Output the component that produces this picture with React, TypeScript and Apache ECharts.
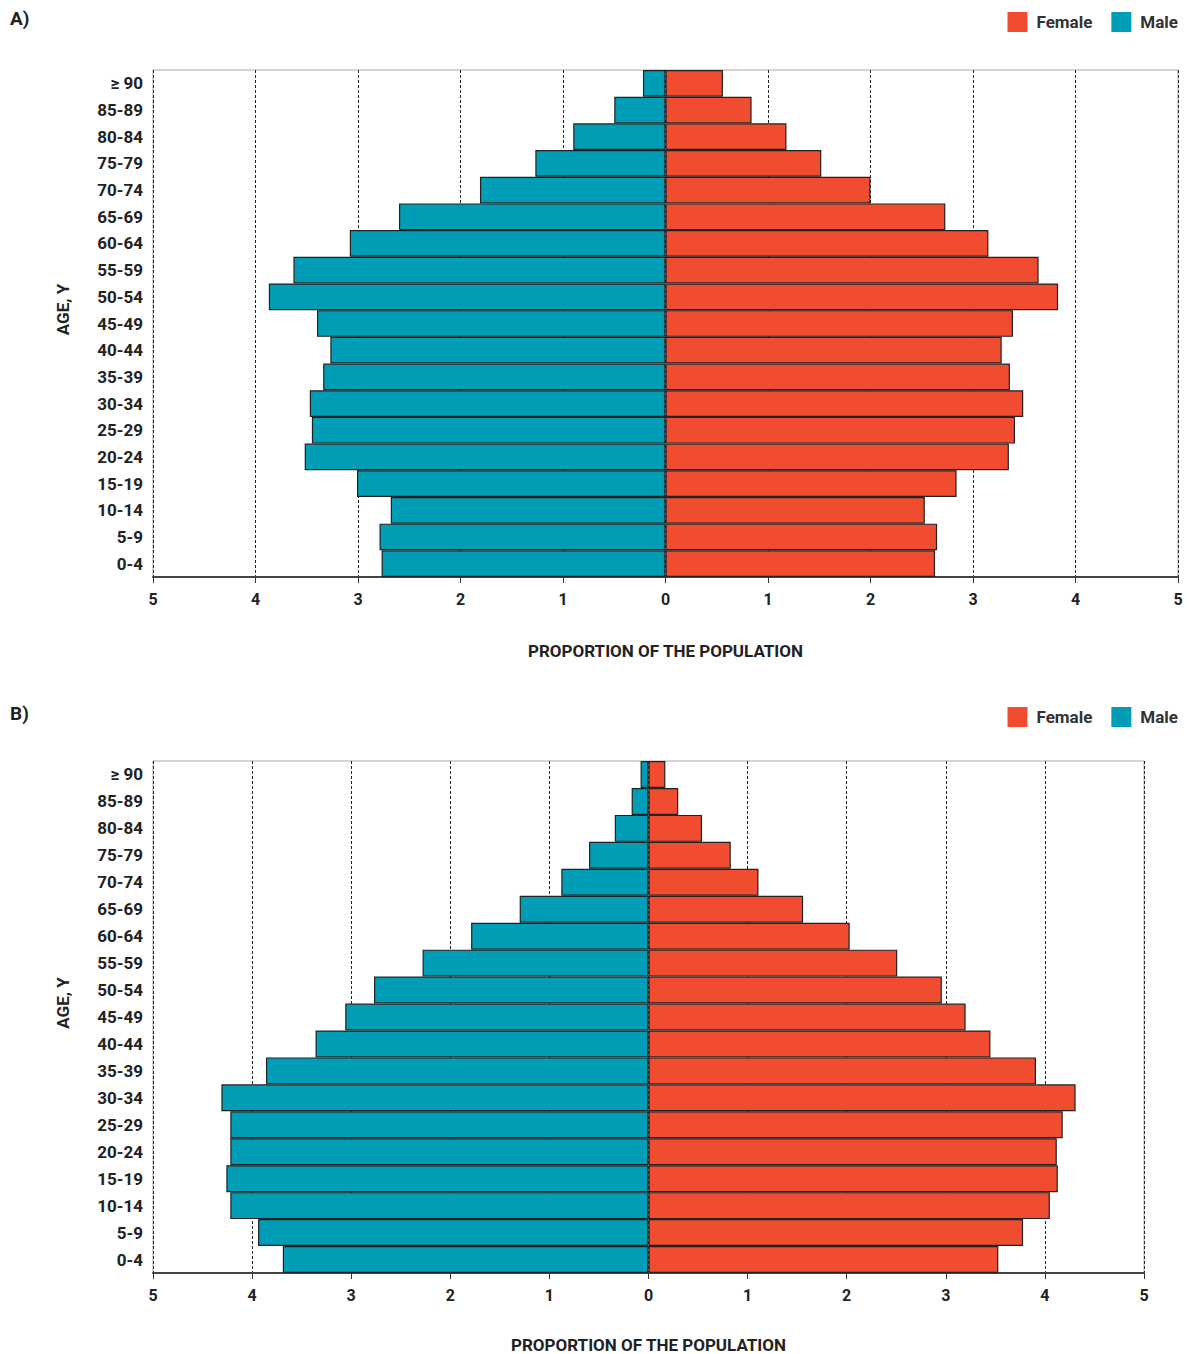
import React, { useEffect, useRef } from "react";
import * as echarts from "echarts";

const ageGroups = ["0-4", "5-9", "10-14", "15-19", "20-24", "25-29", "30-34", "35-39", "40-44", "45-49", "50-54", "55-59", "60-64", "65-69", "70-74", "75-79", "80-84", "85-89", "≥ 90"];

const maleA = [2.77, 2.79, 2.68, 3.01, 3.52, 3.45, 3.47, 3.34, 3.27, 3.4, 3.87, 3.63, 3.08, 2.6, 1.81, 1.27, 0.9, 0.5, 0.22];
const femaleA = [2.63, 2.65, 2.53, 2.84, 3.35, 3.41, 3.49, 3.36, 3.28, 3.39, 3.83, 3.64, 3.15, 2.73, 2.0, 1.52, 1.18, 0.84, 0.56];

const maleB = [3.69, 3.94, 4.22, 4.26, 4.22, 4.22, 4.31, 3.86, 3.36, 3.06, 2.77, 2.28, 1.79, 1.3, 0.88, 0.6, 0.34, 0.17, 0.08];
const femaleB = [3.53, 3.78, 4.05, 4.13, 4.12, 4.18, 4.31, 3.91, 3.45, 3.2, 2.96, 2.51, 2.03, 1.56, 1.11, 0.83, 0.54, 0.3, 0.17];

const panelLabels = ["A)", "B)"];
const axisTitle = "PROPORTION OF THE POPULATION";
const ageTitle = "AGE, Y";

const FEMALE = "#F04D30";
const MALE = "#009EB6";
const FONT = "Roboto";
const TEXT = "#222";

export default function App() {
  const ref = useRef<HTMLDivElement>(null);
  useEffect(() => {
    if (!ref.current) return;
    const chart = echarts.init(ref.current, null, { renderer: "svg" });
    const grids = [
      { left: 153, right: 12, top: 70, height: 507 },
      { left: 153, right: 46, top: 761, height: 512 },
    ];
    const data = [
      [maleA, femaleA],
      [maleB, femaleB],
    ];
    const nameGaps = [65, 63];
    const option: any = {
      animation: false,
      textStyle: { fontFamily: FONT },
      title: panelLabels.map((t, i) => ({
        text: t,
        left: 5,
        top: i === 0 ? 4 : 699,
        textStyle: { fontFamily: FONT, fontWeight: "bold", fontSize: 19, color: TEXT },
      })),
      legend: [0, 1].map((i) => ({
        data: ["Female", "Male"],
        right: 7,
        top: i === 0 ? 7 : 702,
        icon: "rect",
        itemWidth: 20,
        itemHeight: 20,
        itemGap: 19,
        itemStyle: { borderWidth: 0 },
        textStyle: {
          fontFamily: FONT,
          fontWeight: "bold",
          fontSize: 17,
          color: "#333",
          padding: [0, 0, 0, 4],
        },
        selectedMode: false,
      })),
      grid: grids.map((g) => ({
        ...g,
        show: true,
        borderColor: "#aaa",
        borderWidth: 1,
        containLabel: false,
        outerBoundsMode: "none",
      })),
      graphic: grids.map((g) => ({
        type: "text",
        x: 63,
        y: g.top + g.height / 2 - 14,
        rotation: Math.PI / 2,
        style: {
          text: ageTitle,
          fontFamily: FONT,
          fontWeight: "bold",
          fontSize: 17,
          fill: TEXT,
          textAlign: "center",
          textVerticalAlign: "middle",
        },
      })),
      xAxis: [0, 1].map((i) => ({
        type: "value",
        gridIndex: i,
        min: -5,
        max: 5,
        interval: 1,
        name: axisTitle,
        nameLocation: "middle",
        nameGap: nameGaps[i],
        nameTextStyle: { fontFamily: FONT, fontWeight: "bold", fontSize: 17, color: TEXT },
        axisLine: { show: true, onZero: false, lineStyle: { color: "#444", width: 2 } },
        axisTick: { show: true, length: 6, lineStyle: { color: "#333" } },
        axisLabel: {
          formatter: (v: number) => String(Math.abs(v)),
          fontFamily: FONT,
          fontWeight: "bold",
          fontSize: 16,
          color: TEXT,
          margin: 14,
        },
        splitLine: { show: true, lineStyle: { color: "#222", type: [3, 2], width: 1 } },
      })),
      yAxis: [0, 1].map((i) => ({
        type: "category",
        gridIndex: i,
        data: ageGroups,
        axisLine: { show: false },
        axisTick: { show: false },
        axisLabel: { fontFamily: FONT, fontWeight: "bold", fontSize: 17, color: TEXT, margin: 10 },
      })),
      series: [0, 1].flatMap((i) => [
        {
          name: "Male",
          type: "bar",
          xAxisIndex: i,
          yAxisIndex: i,
          data: data[i][0].map((v) => -v),
          barGap: "-100%",
          barCategoryGap: "0%",
          itemStyle: { color: MALE, borderColor: "#222", borderWidth: 1.2 },
        },
        {
          name: "Female",
          type: "bar",
          xAxisIndex: i,
          yAxisIndex: i,
          data: data[i][1],
          barGap: "-100%",
          barCategoryGap: "0%",
          itemStyle: { color: FEMALE, borderColor: "#222", borderWidth: 1.2 },
        },
      ]),
    };
    chart.setOption(option);
    return () => chart.dispose();
  }, []);
  return (
    <div
      ref={ref}
      style={{ position: "absolute", left: 0, top: 0, width: 1190, height: 1354, background: "#fff" }}
    />
  );
}
